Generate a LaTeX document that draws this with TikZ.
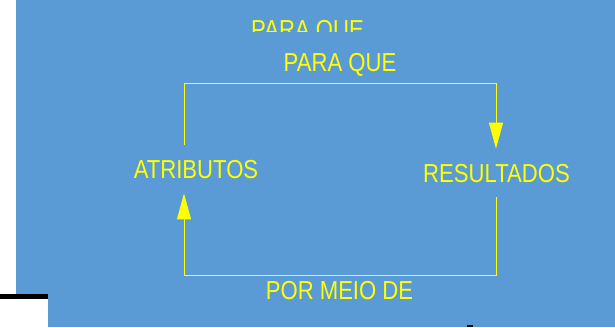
\documentclass[tikz,border=0pt]{standalone}
\usepackage{fontspec}
\setmainfont[FakeStretch=0.85]{Liberation Sans}
\usetikzlibrary{arrows.meta}
\definecolor{bgblue}{HTML}{5B9BD5}
\definecolor{ylw}{HTML}{FFFF00}
\tikzset{
  lbl/.style={text=ylw, font=\fontsize{26}{30}\selectfont, inner xsep=0pt, inner ysep=15pt, anchor=base},
  flow/.style={draw=ylw, line width=1pt},
  tip/.style={-{Triangle[length=26pt,width=14pt]}, ylw}
}
\begin{document}
\begin{tikzpicture}[x=1pt,y=-1pt]
\useasboundingbox (0,0) rectangle (615,327);
% background
\fill[bgblue] (16,0) rectangle (615,293.5);
\fill[bgblue] (48,293) rectangle (615,327);
\fill[black] (0,293.5) rectangle (48,299);
\fill[black] (467,325.3) rectangle (472.5,327);
% clipped top text
\begin{scope}
\clip (0,0) rectangle (615,31.7);
\node[lbl] (ghost) at (307.5,38.6) {PARA QUE};
\end{scope}
% corners
\coordinate (tl) at (184,83);
\coordinate (tr) at (496,83);
\coordinate (br) at (496,275);
\coordinate (bl) at (184,275);
% labels
\node[lbl] (atr) at (196,178) {ATRIBUTOS};
\node[lbl] (res) at (496.5,182) {RESULTADOS};
\node[lbl] (para) at (340,71) {PARA QUE};
\node[lbl] (meio) at (339.5,299) {POR MEIO DE};
% loop
\draw[flow, tip] (atr.north -| tl) -- (tl) -- (tr) -- (res.north -| tr);
\draw[flow, tip] (res.south -| br) -- (br) -- (bl) -- (atr.south -| bl);
\end{tikzpicture}
\end{document}
